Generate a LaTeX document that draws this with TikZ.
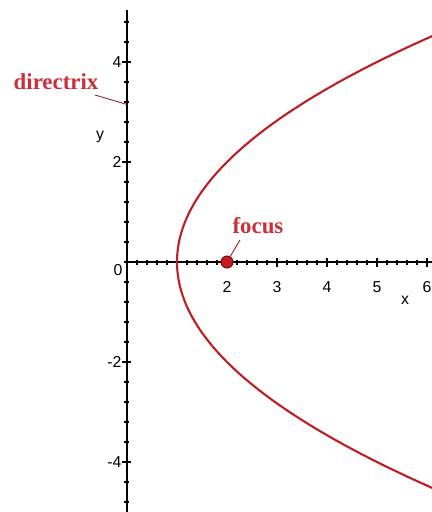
\documentclass[tikz,border=0pt]{standalone}
\usepackage{fontspec}
\setmainfont{Liberation Serif}
\setsansfont{Liberation Sans}
\usetikzlibrary{positioning,calc}
\definecolor{curvered}{RGB}{190,30,36}
\definecolor{labelred}{RGB}{200,48,58}

\begin{document}
\begin{tikzpicture}[
  axis/.style={draw,black,line width=0.8pt},
  tick/.style={draw,black,line width=0.6pt},
  num/.style={font=\sffamily\fontsize{9}{10}\selectfont,inner sep=1pt},
  callout/.style={font=\bfseries\fontsize{13}{15}\selectfont,text=labelred,inner sep=1pt},
  pointer/.style={draw,curvered!85!black,line width=0.5pt}
]
\useasboundingbox (-2.54,-5.0) rectangle (6.08,5.24);

% axes
\draw[axis] (0,-5.1) -- (0,5.04);
\draw[axis] (0,0) -- (6.2,0);

% ticks on y
\foreach \t in {-4.8,-4.4,...,4.9}
  \draw[tick] (-0.05,\t) -- (0.05,\t);
\foreach \t in {-4,-2,2,4}
  \draw[tick] (-0.09,\t) -- (0.09,\t);
% ticks on x
\foreach \t in {0.2,0.4,...,6.1}
  \draw[tick] (\t,-0.05) -- (\t,0.05);
\foreach \t in {1,...,6}
  \draw[tick] (\t,-0.09) -- (\t,0.09);

% numbers
\foreach \t in {-4,-2,2,4}
  \node[num,anchor=east] (ylab\t) at (-0.07,\t) {\t};
\foreach \t in {2,...,6}
  \node[num] (xlab\t) at (\t,-0.5) {\t};
\node[num] (origin) at (-0.18,-0.16) {0};
\node[num] (ytitle) at (-0.54,2.5) {y};
\node[num] (xtitle) at (5.56,-0.76) {x};

% parabola
\draw[curvered,line width=1.2pt,domain=-4.52:4.52,samples=120,smooth]
  plot ({1+\x*\x/4},\x);

% focus
\node[circle,fill=curvered!90!red,draw=curvered!60!black,line width=0.6pt,
  minimum size=0.24cm,inner sep=0pt] (focus) at (2,0) {};
\node[callout] (focuslbl) at (2.62,0.72) {focus};
\coordinate (focustail) at (2.26,0.44);
\draw[pointer] (focustail) -- (focus);

% directrix
\node[callout] (dirlbl) at (-1.42,3.6) {directrix};
\coordinate (dirtail) at (-0.64,3.34);
\coordinate (dirfoot) at (0,3.15);
\draw[pointer] (dirtail) -- (dirfoot);
\end{tikzpicture}
\end{document}
